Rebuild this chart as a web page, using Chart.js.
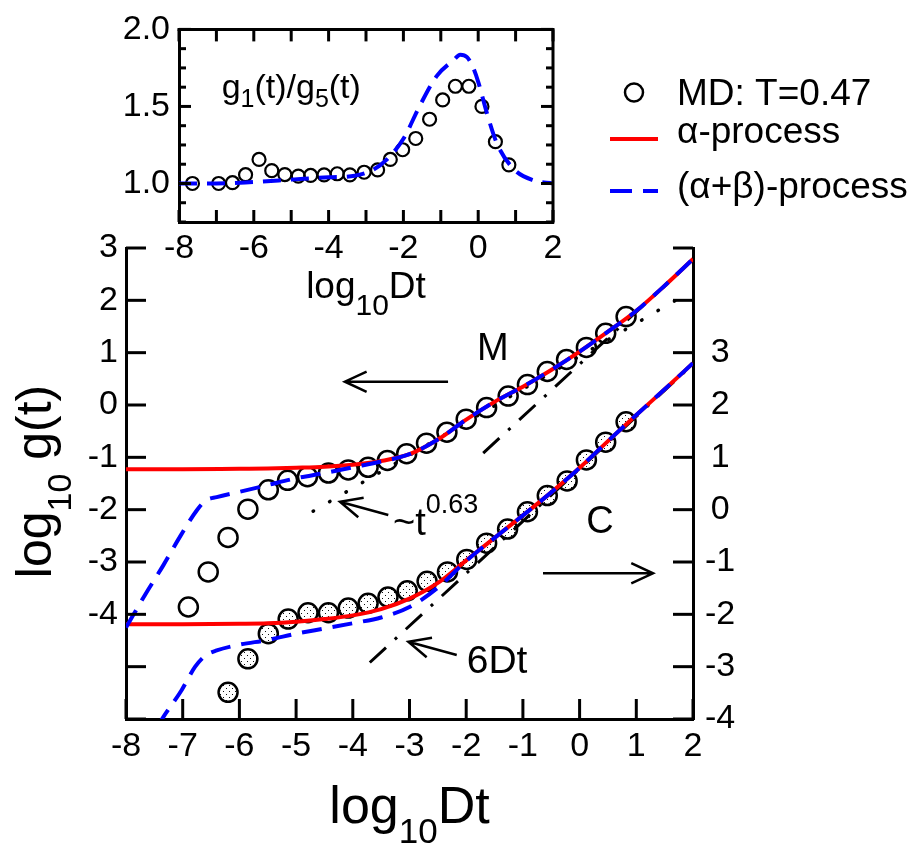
<!DOCTYPE html>
<html lang="en">
<head>
<meta charset="utf-8">
<title>log10 g(t) versus log10 Dt</title>
<script src="https://cdn.jsdelivr.net/npm/chart.js@4.4.1/dist/chart.umd.min.js"></script>
<style>
  html, body { margin: 0; padding: 0; background: #ffffff; }
  #stage { position: relative; width: 918px; height: 847px; overflow: hidden; background: #ffffff; }
  #stage canvas { position: absolute; left: 0; top: 0; }
</style>
</head>
<body>
<div id="stage">
  <canvas id="mainPlot" width="918" height="847"></canvas>
  <canvas id="ratioPlot" width="918" height="847"></canvas>
</div>
<script>
const FAMILY = '"Liberation Sans", Arial, Helvetica, sans-serif';
const RED = '#ff0000';
const BLUE = '#0000ff';

// ---- MD simulation, T = 0.47 (log10 Dt, log10 g) ----
const mdLogDtM = [-6.90, -6.55, -6.20, -5.85, -5.49, -5.15, -4.80, -4.43, -4.08, -3.73, -3.39, -3.05, -2.70, -2.34, -2.00, -1.64, -1.26, -0.92, -0.57, -0.23, 0.12, 0.46, 0.82];
const mdLogGM  = [-3.86, -3.19, -2.53, -1.99, -1.62, -1.44, -1.37, -1.30, -1.24, -1.19, -1.06, -0.93, -0.73, -0.52, -0.27, -0.05, 0.17, 0.39, 0.64, 0.87, 1.10, 1.37, 1.69];
const mdLogDtC = [-6.20, -5.85, -5.49, -5.14, -4.79, -4.43, -4.08, -3.73, -3.38, -3.04, -2.69, -2.33, -1.99, -1.64, -1.27, -0.92, -0.57, -0.22, 0.12, 0.46, 0.82];
const mdLogGC  = [-3.49, -2.85, -2.37, -2.09, -1.97, -1.97, -1.88, -1.79, -1.67, -1.55, -1.37, -1.19, -0.95, -0.64, -0.37, -0.04, 0.27, 0.55, 0.95, 1.29, 1.68];

// ---- alpha-process curves ----
const alphaLogDt = [-8, -7, -6, -5.5, -5, -4.5, -4, -3.5, -3, -2.5, -2, -1.5, -1, -0.5, 0, 0.5, 1, 1.5, 2];
const alphaLogGM = [-1.23, -1.23, -1.22, -1.215, -1.20, -1.18, -1.14, -1.07, -0.94, -0.66, -0.28, 0.06, 0.35, 0.67, 1.02, 1.40, 1.80, 2.28, 2.79];
const alphaLogGC = [-2.19, -2.19, -2.18, -2.17, -2.14, -2.09, -2.02, -1.90, -1.70, -1.40, -0.97, -0.54, -0.11, 0.33, 0.80, 1.31, 1.81, 2.30, 2.80];

// ---- (alpha+beta)-process curves ----
const abLogDtM = [-8, -7.87, -7.665, -7.34, -7.05, -6.75, -6.6, -6.4, -6.0, -5.5, -5.0, -4.5, -4.0, -3.5, -3.0, -2.5, -2.0, -1.5, -1, -0.5, 0, 0.5, 1, 1.5, 2];
const abLogGM  = [-4.25, -4.01, -3.63, -3.06, -2.52, -2.01, -1.83, -1.76, -1.66, -1.53, -1.40, -1.30, -1.19, -1.08, -0.94, -0.66, -0.28, 0.06, 0.35, 0.67, 1.02, 1.40, 1.80, 2.28, 2.79];
const abLogDtC = [-7.45, -7.34, -7.02, -6.78, -6.6, -6.4, -6.0, -5.5, -5.0, -4.5, -4.0, -3.5, -3.0, -2.5, -2.0, -1.5, -1, -0.5, 0, 0.5, 1, 1.5, 2];
const abLogGC  = [-4.15, -3.96, -3.45, -3.00, -2.79, -2.69, -2.58, -2.49, -2.37, -2.27, -2.17, -2.06, -1.86, -1.49, -0.98, -0.54, -0.11, 0.33, 0.80, 1.31, 1.81, 2.30, 2.80];

// ---- reference slopes: 6Dt (slope 1) and ~t^0.63 ----
const sixDtLogDtM = [-1.70, 2.00];
const sixDtLogGM  = [-0.92, 2.78];
const sixDtLogDtC = [-3.70, 2.00];
const sixDtLogGC  = [-2.92, 2.78];
const powLogDt = [-4.70, 1.90];
const powLogG  = [-2.03, 2.13];

// ---- g1(t)/g5(t) ----
const ratioLogDt = [-7.64, -6.94, -6.57, -6.22, -5.86, -5.52, -5.17, -4.81, -4.48, -4.12, -3.77, -3.43, -3.05, -2.69, -2.35, -2.02, -1.67, -1.30, -0.95, -0.61, -0.25, 0.10, 0.46, 0.82];
const ratioMD    = [1.00, 1.00, 1.005, 1.057, 1.156, 1.083, 1.058, 1.048, 1.052, 1.056, 1.063, 1.056, 1.073, 1.088, 1.156, 1.219, 1.292, 1.417, 1.542, 1.631, 1.631, 1.50, 1.271, 1.121];
const ratioFitLogDt = [-8, -7, -6, -5, -4, -3.3, -2.8, -2.44, -2.0, -1.55, -1.1, -0.66, -0.48, -0.3, -0.15, 0, 0.24, 0.5, 0.95, 1.48, 2];
const ratioFit      = [1.0, 1.0, 1.01, 1.025, 1.04, 1.05, 1.09, 1.156, 1.29, 1.51, 1.70, 1.80, 1.835, 1.82, 1.76, 1.66, 1.45, 1.26, 1.094, 1.02, 1.0];

// ---- ticks ----
const mainXTicks = [-8, -7, -6, -5, -4, -3, -2, -1, 0, 1, 2];
const leftYTicks = [-6, -5, -4, -3, -2, -1, 0, 1, 2, 3];
const leftYLabeled = [-4, -3, -2, -1, 0, 1, 2, 3];
const rightYTicks = [-4, -3, -2, -1, 0, 1, 2, 3, 4, 5];
const rightYLabeled = [-4, -3, -2, -1, 0, 1, 2, 3];
const ratioXTicks = [-8, -7, -6, -5, -4, -3, -2, -1, 0, 1, 2];
const ratioXLabeled = [-8, -6, -4, -2, 0, 2];
const ratioYTicks = [0.75, 0.875, 1.0, 1.125, 1.25, 1.375, 1.5, 1.625, 1.75, 1.875, 2.0];
const ratioYLabeled = [1.0, 1.5, 2.0];

Chart.defaults.font.family = FAMILY;
Chart.defaults.color = '#000';

function pts(xs, ys) { return xs.map((x, i) => ({ x: x, y: ys[i] })); }
function useTicks(values) { return function (scale) { scale.ticks = values.map(v => ({ value: v })); }; }

// dotted fill for the C markers
function stipple(ctx) {
  const c = document.createElement('canvas');
  c.width = 6; c.height = 6;
  const g = c.getContext('2d');
  g.fillStyle = '#ffffff'; g.fillRect(0, 0, 6, 6);
  g.fillStyle = '#111111';
  g.fillRect(1, 1, 1, 1);
  g.fillRect(4, 4, 1, 1);
  return ctx.createPattern(c, 'repeat');
}

// text runs with sub/superscripts: [text, size, baselineShift]
function rich(ctx, parts, x, y, align) {
  let w = 0;
  parts.forEach(p => { ctx.font = p[1] + 'px ' + FAMILY; w += ctx.measureText(p[0]).width; });
  let cx = align === 'center' ? x - w / 2 : (align === 'right' ? x - w : x);
  ctx.textAlign = 'left';
  ctx.textBaseline = 'alphabetic';
  parts.forEach(p => {
    ctx.font = p[1] + 'px ' + FAMILY;
    ctx.fillText(p[0], cx, y + (p[2] || 0));
    cx += ctx.measureText(p[0]).width;
  });
}

function arrow(ctx, x0, y0, x1, y1) {
  const ang = Math.atan2(y0 - y1, x0 - x1);
  const L = 24, h = 25 * Math.PI / 180;
  ctx.beginPath();
  ctx.moveTo(x0, y0); ctx.lineTo(x1, y1);
  ctx.moveTo(x1 + L * Math.cos(ang + h), y1 + L * Math.sin(ang + h));
  ctx.lineTo(x1, y1);
  ctx.lineTo(x1 + L * Math.cos(ang - h), y1 + L * Math.sin(ang - h));
  ctx.stroke();
}

// inward tick marks (and optional top/right frame)
function tickMarks(specs, frame) {
  return {
    id: 'tickMarks',
    afterDatasetsDraw(chart) {
      const ctx = chart.ctx, a = chart.chartArea;
      ctx.save();
      ctx.strokeStyle = '#000';
      ctx.lineWidth = 3;
      ctx.setLineDash([]);
      if (frame) {
        ctx.beginPath();
        ctx.moveTo(a.left - 1.5, a.top);
        ctx.lineTo(a.right, a.top);
        ctx.lineTo(a.right, a.bottom + 1.5);
        ctx.stroke();
      }
      specs.forEach(s => {
        const sc = chart.scales[s.scale];
        sc.ticks.forEach(t => {
          const p = sc.getPixelForValue(t.value);
          const len = (s.major && s.major.indexOf(t.value) < 0) ? s.minorLen : s.len;
          ctx.beginPath();
          if (s.side === 'bottom') { ctx.moveTo(p, a.bottom); ctx.lineTo(p, a.bottom - len); }
          else if (s.side === 'top') { ctx.moveTo(p, a.top); ctx.lineTo(p, a.top + len); }
          else if (s.side === 'left') { ctx.moveTo(a.left, p); ctx.lineTo(a.left + len, p); }
          else { ctx.moveTo(a.right, p); ctx.lineTo(a.right - len, p); }
          ctx.stroke();
        });
      });
      ctx.restore();
    }
  };
}

const mainCanvas = document.getElementById('mainPlot');
const mainCtx = mainCanvas.getContext('2d');
const dotted = stipple(mainCtx);

const lineBase = { showLine: true, pointRadius: 0, fill: false, tension: 0 };

const mainData = {
  datasets: [
    Object.assign({}, lineBase, { label: '(α+β)-process M', data: pts(abLogDtM, abLogGM), yAxisID: 'y',
      borderColor: BLUE, borderWidth: 4, borderDash: [20, 11], cubicInterpolationMode: 'monotone' }),
    Object.assign({}, lineBase, { label: '(α+β)-process C', data: pts(abLogDtC, abLogGC), yAxisID: 'y2',
      borderColor: BLUE, borderWidth: 4, borderDash: [20, 11], cubicInterpolationMode: 'monotone' }),
    Object.assign({}, lineBase, { label: 'α-process M', data: pts(alphaLogDt, alphaLogGM), yAxisID: 'y',
      borderColor: RED, borderWidth: 4, cubicInterpolationMode: 'monotone' }),
    Object.assign({}, lineBase, { label: 'α-process C', data: pts(alphaLogDt, alphaLogGC), yAxisID: 'y2',
      borderColor: RED, borderWidth: 4, cubicInterpolationMode: 'monotone' }),
    Object.assign({}, lineBase, { label: '6Dt M', data: pts(sixDtLogDtM, sixDtLogGM), yAxisID: 'y',
      borderColor: '#000', borderWidth: 3, borderDash: [22, 12, 3, 12] }),
    Object.assign({}, lineBase, { label: '6Dt C', data: pts(sixDtLogDtC, sixDtLogGC), yAxisID: 'y2',
      borderColor: '#000', borderWidth: 3, borderDash: [22, 12, 3, 12] }),
    Object.assign({}, lineBase, { label: '~t^0.63', data: pts(powLogDt, powLogG), yAxisID: 'y',
      borderColor: '#000', borderWidth: 3.5, borderDash: [0.5, 18.5], borderCapStyle: 'round' }),
    { label: 'MD M', data: pts(mdLogDtM, mdLogGM), yAxisID: 'y', showLine: false,
      pointRadius: 9.5, pointBorderWidth: 2.5, pointBorderColor: '#000', pointBackgroundColor: 'rgba(255,255,255,0)' },
    { label: 'MD C', data: pts(mdLogDtC, mdLogGC), yAxisID: 'y2', showLine: false,
      pointRadius: 9.5, pointBorderWidth: 2.5, pointBorderColor: '#000', pointBackgroundColor: dotted }
  ]
};

const tickFont = { family: FAMILY, size: 34 };

const mainNotes = {
  id: 'mainNotes',
  afterDraw(chart) {
    const ctx = chart.ctx, a = chart.chartArea;
    const X = chart.scales.x, Y = chart.scales.y;
    const px = v => X.getPixelForValue(v), py = v => Y.getPixelForValue(v);
    const ds = chart.data.datasets;
    ctx.save();
    ctx.fillStyle = '#000';
    ctx.strokeStyle = '#000';

    // axis titles
    rich(ctx, [['log', 52], ['10', 35, 20], ['Dt', 52]], (a.left + a.right) / 2, 823, 'center');
    ctx.save();
    ctx.translate(51, (a.top + a.bottom) / 2 - 2);
    ctx.rotate(-Math.PI / 2);
    rich(ctx, [['log', 50], ['10', 34, 20], [' g(t)', 50]], 0, 0, 'center');
    ctx.restore();

    // curve labels and arrows
    rich(ctx, [['M', 38]], px(-1.53), py(0.86), 'center');
    rich(ctx, [['C', 38]], px(0.36), py(-2.446), 'center');
    rich(ctx, [['~t', 38], ['0.63', 27, -22]], px(-3.29), py(-2.485), 'left');
    rich(ctx, [['6Dt', 39]], px(-1.99), py(-5.127), 'left');
    ctx.lineWidth = 2.5;
    ctx.setLineDash([]);
    arrow(ctx, px(-2.32), py(0.445), px(-4.14), py(0.445));
    arrow(ctx, px(-0.645), py(-3.216), px(1.295), py(-3.216));
    arrow(ctx, px(-3.374), py(-2.102), px(-4.226), py(-1.848));
    arrow(ctx, px(-2.167), py(-4.777), px(-3.02), py(-4.523));

    // legend
    const md = ds[7], alpha = ds[2], ab = ds[0];
    ctx.lineWidth = md.pointBorderWidth;
    ctx.strokeStyle = md.pointBorderColor;
    ctx.beginPath(); ctx.arc(634, 92.5, 9, 0, Math.PI * 2); ctx.stroke();
    ctx.lineWidth = alpha.borderWidth;
    ctx.strokeStyle = alpha.borderColor;
    ctx.beginPath(); ctx.moveTo(610, 139); ctx.lineTo(658, 139); ctx.stroke();
    ctx.lineWidth = ab.borderWidth;
    ctx.strokeStyle = ab.borderColor;
    ctx.setLineDash([22, 11]);
    ctx.beginPath(); ctx.moveTo(610, 191); ctx.lineTo(658, 191); ctx.stroke();
    ctx.setLineDash([]);
    ctx.fillStyle = '#000';
    rich(ctx, [['MD: T=0.47', 37]], 677, 105, 'left');
    rich(ctx, [['α-process', 37]], 677, 143, 'left');
    rich(ctx, [['(α+β)-process', 37]], 677, 198, 'left');
    ctx.restore();
  }
};

new Chart(mainCtx, {
  type: 'scatter',
  data: mainData,
  options: {
    responsive: false,
    animation: false,
    devicePixelRatio: 1,
    events: [],
    layout: { padding: { top: 248, left: 0, right: 0, bottom: 0 } },
    plugins: { legend: { display: false }, tooltip: { enabled: false } },
    scales: {
      x: {
        type: 'linear', position: 'bottom', min: -8, max: 2,
        afterBuildTicks: useTicks(mainXTicks),
        afterFit: s => { s.height = 128; },
        ticks: { autoSkip: false, maxRotation: 0, padding: 7, font: tickFont, color: '#000',
          callback: v => String(v) },
        grid: { display: false, drawTicks: false },
        border: { display: true, color: '#000', width: 3 }
      },
      y: {
        type: 'linear', position: 'left', min: -6, max: 3,
        afterBuildTicks: useTicks(leftYTicks),
        afterFit: s => { s.width = 126; },
        ticks: { autoSkip: false, padding: 8, font: tickFont, color: '#000',
          callback: v => leftYLabeled.indexOf(v) >= 0 ? String(v) : '' },
        grid: { display: false, drawTicks: false },
        border: { display: true, color: '#000', width: 3 }
      },
      y2: {
        type: 'linear', position: 'right', min: -4, max: 5,
        afterBuildTicks: useTicks(rightYTicks),
        afterFit: s => { s.width = 225; },
        ticks: { autoSkip: false, padding: 12, crossAlign: 'center', font: tickFont, color: '#000',
          callback: v => rightYLabeled.indexOf(v) >= 0 ? String(v) : '' },
        grid: { display: false, drawTicks: false },
        border: { display: true, color: '#000', width: 3 }
      }
    }
  },
  plugins: [
    tickMarks([
      { scale: 'x', side: 'bottom', len: 20 },
      { scale: 'y', side: 'left', len: 20 },
      { scale: 'y2', side: 'right', len: 20 }
    ], false),
    mainNotes
  ]
});

// ---- ratio plot g1(t)/g5(t) ----
const ratioNotes = {
  id: 'ratioNotes',
  afterDraw(chart) {
    const ctx = chart.ctx, a = chart.chartArea;
    const X = chart.scales.x, Y = chart.scales.y;
    ctx.save();
    ctx.fillStyle = '#000';
    rich(ctx, [['g', 34], ['1', 25, 9], ['(t)/g', 34], ['5', 25, 9], ['(t)', 34]],
      X.getPixelForValue(-6.86), Y.getPixelForValue(1.554), 'left');
    rich(ctx, [['log', 37], ['10', 30, 17], ['Dt', 37]], (a.left + a.right) / 2, 298, 'center');
    ctx.restore();
  }
};

new Chart(document.getElementById('ratioPlot').getContext('2d'), {
  type: 'scatter',
  data: {
    datasets: [
      Object.assign({}, lineBase, { label: '(α+β)-process', data: pts(ratioFitLogDt, ratioFit),
        borderColor: BLUE, borderWidth: 4, borderDash: [18, 10], cubicInterpolationMode: 'monotone' }),
      { label: 'MD: T=0.47', data: pts(ratioLogDt, ratioMD), showLine: false,
        pointRadius: 6.5, pointBorderWidth: 2.2, pointBorderColor: '#000', pointBackgroundColor: 'rgba(255,255,255,0)' }
    ]
  },
  options: {
    responsive: false,
    animation: false,
    devicePixelRatio: 1,
    events: [],
    layout: { padding: { top: 20, left: 0, right: 365, bottom: 565 } },
    plugins: { legend: { display: false }, tooltip: { enabled: false } },
    scales: {
      x: {
        type: 'linear', position: 'bottom', min: -8, max: 2,
        afterBuildTicks: useTicks(ratioXTicks),
        afterFit: s => { s.height = 60; },
        ticks: { autoSkip: false, maxRotation: 0, padding: 6, font: tickFont, color: '#000',
          callback: v => ratioXLabeled.indexOf(v) >= 0 ? String(v) : '' },
        grid: { display: false, drawTicks: false },
        border: { display: true, color: '#000', width: 3 }
      },
      y: {
        type: 'linear', position: 'left', min: 0.75, max: 2.0,
        afterBuildTicks: useTicks(ratioYTicks),
        afterFit: s => { s.width = 179; },
        ticks: { autoSkip: false, padding: 9, font: tickFont, color: '#000',
          callback: v => ratioYLabeled.indexOf(v) >= 0 ? v.toFixed(1) : '' },
        grid: { display: false, drawTicks: false },
        border: { display: true, color: '#000', width: 3 }
      }
    }
  },
  plugins: [
    tickMarks([
      { scale: 'x', side: 'bottom', len: 12 },
      { scale: 'x', side: 'top', len: 12 },
      { scale: 'y', side: 'left', len: 12, major: ratioYLabeled, minorLen: 7 },
      { scale: 'y', side: 'right', len: 12, major: ratioYLabeled, minorLen: 7 }
    ], true),
    ratioNotes
  ]
});
</script>
</body>
</html>
